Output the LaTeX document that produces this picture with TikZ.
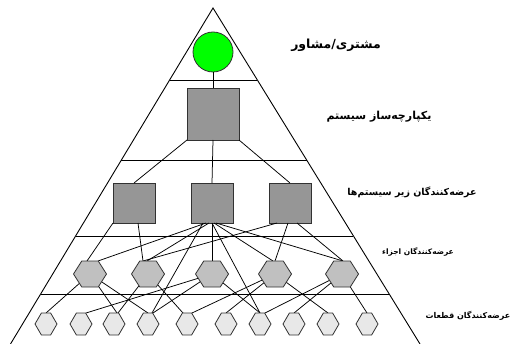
\documentclass[tikz,border=0pt]{standalone}
\usepackage{fontspec}
\newfontfamily\arabicfont[Script=Arabic]{DejaVu Sans}
\TeXXeTstate=1
\usetikzlibrary{calc}
\definecolor{cgreen}{RGB}{0,255,0}
\definecolor{sqgray}{RGB}{150,150,150}
\definecolor{hexmid}{RGB}{192,192,192}
\definecolor{hexlight}{RGB}{232,232,232}
\definecolor{edgegray}{RGB}{50,50,50}
\begin{document}
\begin{tikzpicture}[x=1pt,y=-1pt,
  conn/.style={draw=black, line width=0.75pt},
  tierline/.style={draw=black, line width=0.9pt},
  clientnode/.style={circle, draw=edgegray, line width=0.8pt, fill=cgreen, minimum size=40pt, inner sep=0pt, outer sep=0pt},
  integnode/.style={rectangle, draw=edgegray, line width=0.8pt, fill=sqgray, minimum width=52pt, minimum height=52pt, inner sep=0pt, outer sep=0pt},
  subnode/.style={rectangle, draw=edgegray, line width=0.8pt, fill=sqgray, minimum width=42pt, minimum height=40pt, inner sep=0pt, outer sep=0pt},
  compbox/.style={rectangle, minimum width=33pt, minimum height=26pt, inner sep=0pt, outer sep=0pt},
  partbox/.style={rectangle, minimum width=22pt, minimum height=22pt, inner sep=0pt, outer sep=0pt},
  hexdraw/.style={draw=edgegray, line width=0.8pt},
  lab/.style={inner sep=0pt, anchor=center, text=black}
]
\useasboundingbox (0,0) rectangle (510,344);

% pyramid
\coordinate (apex) at (213,8);
\coordinate (bl) at (10.5,344);
\coordinate (br) at (420,344);
\draw[tierline] (bl) -- (apex) -- (br);
\foreach \yy in {80,160,236,294}
  \draw[tierline] ($(apex)!{(\yy-8)/336}!(bl)$) -- ($(apex)!{(\yy-8)/336}!(br)$);

% nodes (positions)
\node[clientnode] (C) at (213,52) {};
\node[integnode] (S) at (213,114) {};
\node[subnode] (T1) at (134,203) {};
\node[subnode] (T2) at (212,203) {};
\node[subnode] (T3) at (290,203) {};
\foreach \n/\x in {M1/90,M2/148,M3/212,M4/275,M5/342}
  \node[compbox] (\n) at (\x,274) {};
\foreach \n/\x in {B1/46,B2/81,B3/114,B4/148,B5/187,B6/226,B7/260,B8/294,B9/328,B10/367}
  \node[partbox] (\n) at (\x,324) {};

% connectors
\draw[conn] (C.south) -- (S.north);
\draw[conn] (S.south west) -- (T1.north);
\draw[conn] (S.south) -- (T2.north);
\draw[conn] (S.south east) -- (T3.north);

\draw[conn] (T1.south west) -- ($(M1.north)+(-3,0)$);
\draw[conn] ($(T1.south)+(4,0)$) -- ($(M2.north)+(-5,0)$);
\draw[conn] ($(T2.south)+(-6,0)$) -- ($(M1.north)+(8,0)$);
\draw[conn] ($(T2.south)+(-3,0)$) -- ($(M2.north)+(-1,0)$);
\draw[conn] (T2.south) -- (M3.north);
\draw[conn] ($(T2.south)+(2,0)$) -- ($(M4.north)+(-2,0)$);
\draw[conn] ($(T2.south)+(4,0)$) -- ($(M5.north)+(1,0)$);
\draw[conn] ($(T3.south)+(-13,0)$) -- ($(M2.north)+(-5,0)$);
\draw[conn] ($(T3.south)+(-2,0)$) -- (M4.north);
\draw[conn] ($(T3.south)+(7,0)$) -- ($(M5.north)+(1,0)$);
\draw[conn] ($(T2.south)+(-9,0)$) -- ($(B4.north)+(4,0)$);
\draw[conn] (T2.south) -- (B7.north);

\draw[conn] (M1.center) -- (B1.north);
\draw[conn] (M1.center) -- ($(B3.north)+(3,0)$);
\draw[conn] (M1.center) -- (B4.north);
\draw[conn] (M2.center) -- ($(B3.north)+(4,0)$);
\draw[conn] (M2.center) -- ($(B5.north)+(-4,0)$);
\draw[conn] (M3.center) -- ($(B2.north)+(5,0)$);
\draw[conn] (M3.center) -- ($(B4.north)+(5,0)$);
\draw[conn] (M3.center) -- (B7.north);
\draw[conn] (M4.center) -- ($(B5.north)+(5,0)$);
\draw[conn] (M4.center) -- (B6.north);
\draw[conn] (M4.center) -- (B9.north);
\draw[conn] (M5.center) -- ($(B7.north)+(5,0)$);
\draw[conn] (M5.center) -- (B8.north);
\draw[conn] (M5.center) -- (B10.north);

% hexagon outlines
\foreach \n in {M1,M2,M3,M4,M5}
  \draw[hexdraw, fill=hexmid] (\n.west) -- ($(\n.north west)!.25!(\n.north east)$) -- ($(\n.north west)!.75!(\n.north east)$) -- (\n.east) -- ($(\n.south west)!.75!(\n.south east)$) -- ($(\n.south west)!.25!(\n.south east)$) -- cycle;
\foreach \n in {B1,B2,B3,B4,B5,B6,B7,B8,B9,B10}
  \draw[hexdraw, fill=hexlight] (\n.west) -- ($(\n.north west)!.29!(\n.north east)$) -- ($(\n.north west)!.71!(\n.north east)$) -- (\n.east) -- ($(\n.south west)!.71!(\n.south east)$) -- ($(\n.south west)!.29!(\n.south east)$) -- cycle;

% labels
\node[lab] (L1) at (336,45) {\arabicfont\bfseries\fontsize{12.5}{14}\selectfont\beginR مشتری/مشاور\endR};
\node[lab] (L2) at (379,117) {\arabicfont\bfseries\fontsize{11}{13}\selectfont\beginR یکپارچه^^^^200cساز سیستم\endR};
\node[lab] (L3) at (412,192) {\arabicfont\bfseries\fontsize{9.5}{11}\selectfont\beginR عرضه^^^^200cکنندگان زیر سیستم^^^^200cها\endR};
\node[lab] (L4) at (418,252) {\arabicfont\bfseries\fontsize{7.5}{9}\selectfont\beginR عرضه^^^^200cکنندگان اجزاء\endR};
\node[lab] (L5) at (468,316) {\arabicfont\bfseries\fontsize{8}{10}\selectfont\beginR عرضه^^^^200cکنندگان قطعات\endR};
\end{tikzpicture}
\end{document}
